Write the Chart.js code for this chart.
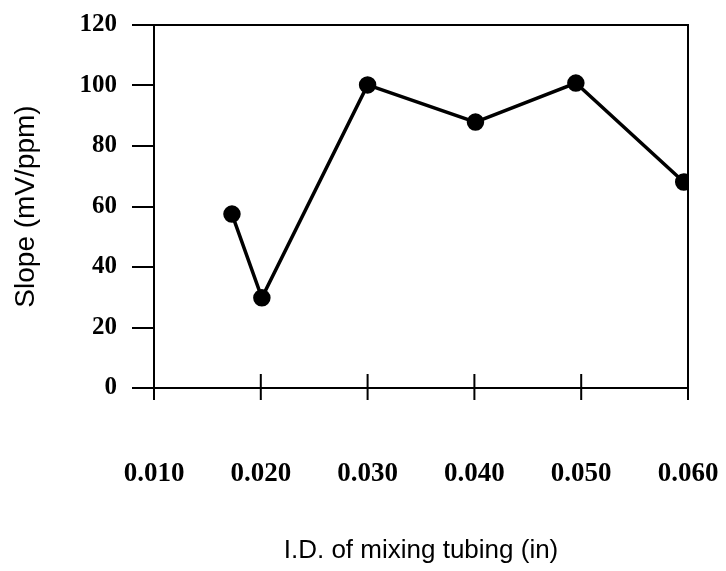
<!DOCTYPE html>
<html>
<head>
<meta charset="utf-8">
<script src="https://cdn.jsdelivr.net/npm/chart.js@4/dist/chart.umd.min.js"></script>
<style>
html,body{margin:0;padding:0;background:#fff;}
#wrap{width:726px;height:571px;position:relative;}
</style>
</head>
<body>
<div id="wrap"><canvas id="c" width="726" height="571"></canvas></div>
<script>
// Data
const tubingID = [0.0173, 0.0201, 0.0300, 0.0401, 0.0495, 0.0596];
const slopeValues = [57.5, 29.8, 100.2, 87.9, 100.8, 68.1];
const xTickValues = [0.010, 0.020, 0.030, 0.040, 0.050, 0.060];
const xTickLabels = ['0.010', '0.020', '0.030', '0.040', '0.050', '0.060'];
const yTickValues = [0, 20, 40, 60, 80, 100, 120];
const xTitle = 'I.D. of mixing tubing (in)';
const yTitle = 'Slope (mV/ppm)';

const tickFont = "'Liberation Serif', 'DejaVu Serif', serif";
const titleFont = "'Liberation Sans', Arial, sans-serif";

const framePlugin = {
  id: 'frame',
  afterDatasetsDraw(chart) {
    const {ctx, chartArea: a, scales: {x}} = chart;
    ctx.save();
    ctx.strokeStyle = '#000';
    ctx.lineWidth = 2;
    ctx.strokeRect(a.left, a.top, a.right - a.left, a.bottom - a.top);
    // crossing ticks on the x axis
    ctx.beginPath();
    x.ticks.forEach(t => {
      const px = x.getPixelForValue(t.value);
      ctx.moveTo(px, a.bottom - 14);
      ctx.lineTo(px, a.bottom + 12);
    });
    ctx.stroke();
    ctx.restore();
  }
};

const data = tubingID.map((v, i) => ({x: v, y: slopeValues[i]}));

new Chart(document.getElementById('c'), {
  type: 'scatter',
  data: {
    datasets: [{
      data: data,
      showLine: true,
      borderColor: '#000',
      backgroundColor: '#000',
      borderWidth: 3.5,
      pointRadius: 7,
      pointHoverRadius: 7,
      tension: 0
    }]
  },
  options: {
    responsive: false,
    animation: false,
    events: [],
    layout: {padding: {top: 25, right: 38, left: 0, bottom: 0}},
    plugins: {legend: {display: false}, tooltip: {enabled: false}},
    scales: {
      x: {
        type: 'linear',
        min: 0.010,
        max: 0.060,
        afterBuildTicks(scale) { scale.ticks = xTickValues.map(v => ({value: v})); },
        afterFit(scale) { scale.height = 183; scale.paddingLeft = 0; scale.paddingRight = 0; },
        grid: {display: false, drawTicks: true, tickLength: 12},
        border: {display: false},
        ticks: {
          color: '#000',
          padding: 58,
          maxRotation: 0,
          autoSkip: false,
          font: {family: tickFont, size: 27, weight: 'bold'},
          callback: (v, i) => xTickLabels[i]
        },
        title: {
          display: true,
          text: xTitle,
          color: '#000',
          font: {family: titleFont, size: 26},
          padding: {top: 0, bottom: 5}
        }
      },
      y: {
        min: 0,
        max: 120,
        afterBuildTicks(scale) { scale.ticks = yTickValues.map(v => ({value: v})); },
        afterFit(scale) { scale.width = 154; scale.paddingTop = 0; scale.paddingBottom = 0; },
        grid: {drawOnChartArea: false, drawTicks: true, tickLength: 22, color: '#000', lineWidth: 2},
        border: {display: false},
        ticks: {
          color: '#000',
          padding: 15,
          font: {family: tickFont, size: 25, weight: 'bold'}
        },
        title: {
          display: true,
          text: yTitle,
          color: '#000',
          font: {family: titleFont, size: 28},
          padding: {top: 9, bottom: 9}
        }
      }
    }
  },
  plugins: [framePlugin]
});
</script>
</body>
</html>
